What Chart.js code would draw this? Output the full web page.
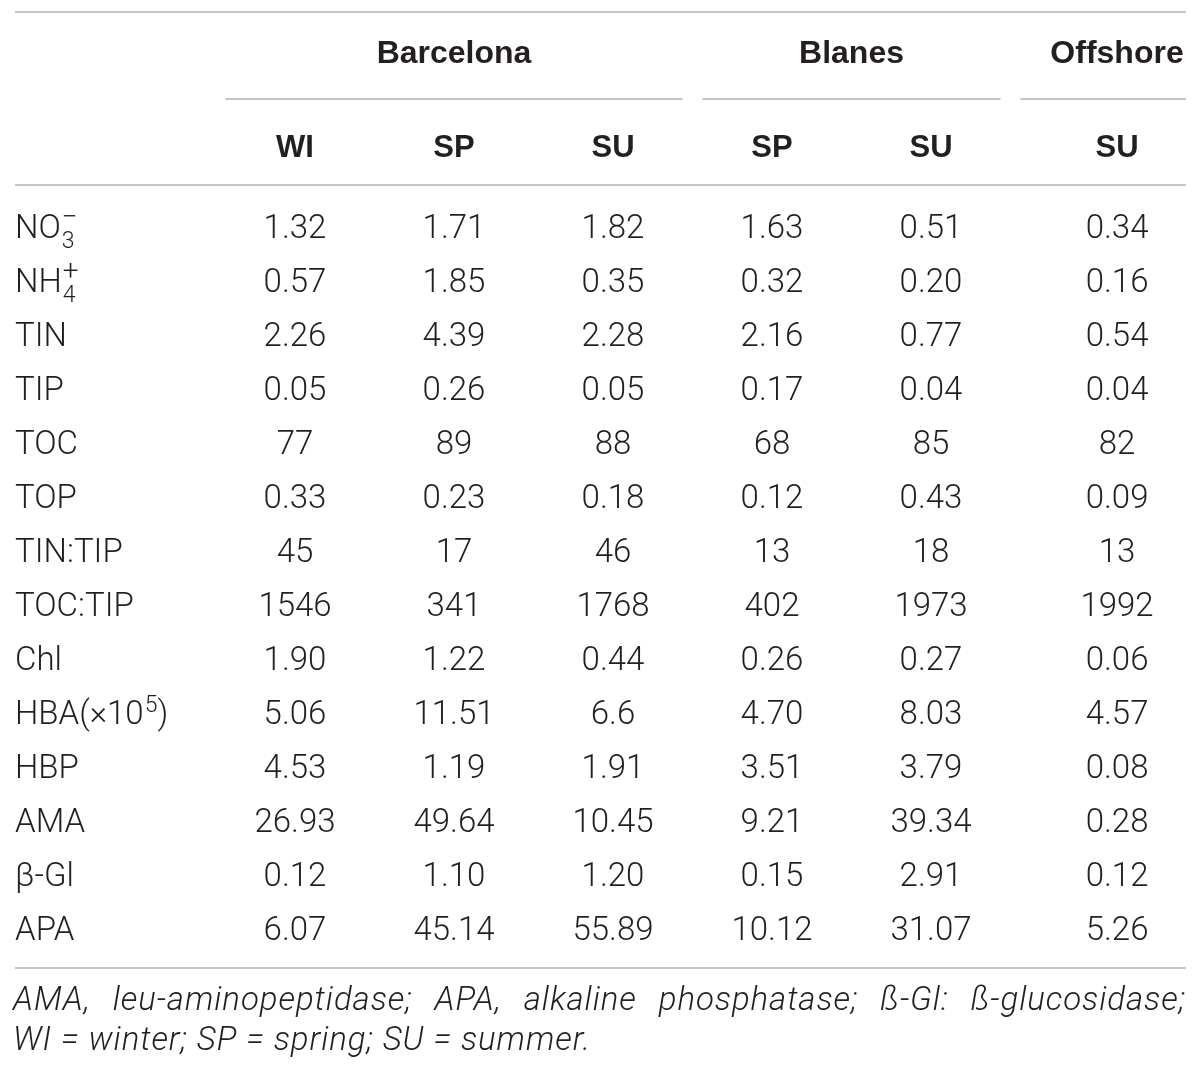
<!DOCTYPE html>
<html>
<head>
<meta charset="utf-8">
<script src="https://cdn.jsdelivr.net/npm/chart.js@4.4.1/dist/chart.umd.min.js"></script>
<style>
  html, body { margin: 0; background: #fff; }
  canvas { display: block; }
</style>
</head>
<body>
<canvas id="tableChart" width="1200" height="1072"></canvas>
<script>
// ---- data ----
const groups = ["Barcelona", "Blanes", "Offshore"];
const groupSizes = [3, 2, 1];
const seasons = ["WI", "SP", "SU", "SP", "SU", "SU"];
const rowLabels = ["NO_{3}^{\u2212}", "NH_{4}^{+}", "TIN", "TIP", "TOC", "TOP", "TIN:TIP", "TOC:TIP",
                   "Chl", "HBA(\u00d710^{5})", "HBP", "AMA", "\u03b2-Gl", "APA"];

const barcelonaWI = ["1.32", "0.57", "2.26", "0.05", "77", "0.33", "45", "1546", "1.90", "5.06", "4.53", "26.93", "0.12", "6.07"];
const barcelonaSP = ["1.71", "1.85", "4.39", "0.26", "89", "0.23", "17", "341", "1.22", "11.51", "1.19", "49.64", "1.10", "45.14"];
const barcelonaSU = ["1.82", "0.35", "2.28", "0.05", "88", "0.18", "46", "1768", "0.44", "6.6", "1.91", "10.45", "1.20", "55.89"];
const blanesSP    = ["1.63", "0.32", "2.16", "0.17", "68", "0.12", "13", "402", "0.26", "4.70", "3.51", "9.21", "0.15", "10.12"];
const blanesSU    = ["0.51", "0.20", "0.77", "0.04", "85", "0.43", "18", "1973", "0.27", "8.03", "3.79", "39.34", "2.91", "31.07"];
const offshoreSU  = ["0.34", "0.16", "0.54", "0.04", "82", "0.09", "13", "1992", "0.06", "4.57", "0.08", "0.28", "0.12", "5.26"];
const columns = [barcelonaWI, barcelonaSP, barcelonaSU, blanesSP, blanesSU, offshoreSU];

const footnoteLines = [
    "AMA, leu-aminopeptidase; APA, alkaline phosphatase; \u00df-Gl: \u00df-glucosidase;",
    "WI = winter; SP = spring; SU = summer."
];

// ---- layout / style ----
const W = 1200, H = 1072;
const tableLeft = 15, tableRight = 1186;
const bodyLeft = 215.5;          // left edge of first value column
const unitPx = 159;              // width of one column unit
const colWidths = [1, 1, 1, 1, 1, 1.34];
const bodyTop = 199, bodyBottom = 955;
const textColor = "#231f20";
const ruleColor = "#c4c4c4";
const bodyFont = "Roboto, 'Liberation Sans', sans-serif";
const headFont = "'Liberation Sans', Arial, sans-serif";
const bodySize = 33;
const footSize = 33;
const footLine2End = 590;        // right end of the short footnote line

// column centres in column units (cumulative widths)
let colCenters = [];
let acc = 0;
colWidths.forEach(w => { colCenters.push(acc + w / 2); acc += w; });

function drawRich(ctx, text, x, baseline, size) {
    let parts = text.split(/(_\{[^}]*\}|\^\{[^}]*\})/).filter(p => p.length);
    let cx = x, scriptStart = null, scriptW = 0;
    parts.forEach(p => {
        if (p.startsWith("_{") || p.startsWith("^{")) {
            let s = p.slice(2, -1);
            let small = Math.round(size * 0.7);
            ctx.font = "300 " + small + "px " + bodyFont;
            if (scriptStart === null) { scriptStart = cx + 1; scriptW = 0; }
            let dy = p[0] === "_" ? size * 0.3 : -size * 0.36;
            if (s === "\u2212" || s === "+") {
                // draw the sign a bit larger, like the reference
                ctx.font = "300 " + Math.round(size * 0.85) + "px " + bodyFont;
            }
            ctx.fillText(s, scriptStart, baseline + dy);
            scriptW = Math.max(scriptW, ctx.measureText(s).width);
            cx = scriptStart + scriptW;
        } else {
            scriptStart = null;
            ctx.font = "300 " + size + "px " + bodyFont;
            ctx.fillText(p, cx, baseline);
            cx += ctx.measureText(p).width;
        }
    });
}

function hRule(ctx, x1, x2, y) {
    ctx.beginPath();
    ctx.moveTo(x1, y);
    ctx.lineTo(x2, y);
    ctx.stroke();
}

function drawJustified(ctx, line, x1, x2, baseline) {
    let words = line.split(" ");
    let total = words.reduce((s, w) => s + ctx.measureText(w).width, 0);
    let gap = (x2 - x1 - total) / (words.length - 1);
    let cx = x1;
    words.forEach(w => {
        ctx.fillText(w, cx, baseline);
        cx += ctx.measureText(w).width + gap;
    });
}

const tablePlugin = {
    id: "tableText",
    afterDatasetsDraw(chart) {
        const ctx = chart.ctx;
        const xs = chart.scales.x;
        const ys = chart.scales.y;
        ctx.save();
        ctx.fillStyle = textColor;
        ctx.strokeStyle = ruleColor;
        ctx.lineWidth = 2;
        ctx.textBaseline = "alphabetic";

        // rules
        hRule(ctx, tableLeft, tableRight, 12);
        hRule(ctx, tableLeft, tableRight, 185);
        hRule(ctx, tableLeft, tableRight, 968);

        // group headers and their underlines
        ctx.font = "bold 32px " + headFont;
        ctx.textAlign = "center";
        let start = 0, left = 0;
        groups.forEach((g, gi) => {
            let width = colWidths.slice(start, start + groupSizes[gi]).reduce((a, b) => a + b, 0);
            let px1 = xs.getPixelForValue(left);
            let px2 = xs.getPixelForValue(left + width);
            ctx.fillText(g, (px1 + px2) / 2, 63);
            hRule(ctx, px1 + 10, Math.min(px2 - 10, tableRight), 99);
            start += groupSizes[gi];
            left += width;
        });

        // season headers
        ctx.font = "bold 31px " + headFont;
        seasons.forEach((s, i) => {
            ctx.fillText(s, xs.getPixelForValue(colCenters[i]), 157);
        });

        // row labels
        ctx.textAlign = "left";
        rowLabels.forEach((lab, i) => {
            drawRich(ctx, lab, tableLeft, ys.getPixelForValue(i) + 12, bodySize);
        });

        // cell values, placed at each data point
        ctx.textAlign = "center";
        ctx.font = "300 " + bodySize + "px " + bodyFont;
        chart.data.datasets.forEach((ds, di) => {
            chart.getDatasetMeta(di).data.forEach((pt, ri) => {
                ctx.fillText(columns[di][ri], pt.x, pt.y + 12);
            });
        });

        // footnote: small extra letter spacing so line 2 has the reference width
        ctx.textAlign = "left";
        ctx.font = "italic 300 " + footSize + "px " + bodyFont;
        let natural = ctx.measureText(footnoteLines[1]).width;
        let spacing = Math.max(0, (footLine2End - 13 - natural) / (footnoteLines[1].length - 1));
        ctx.letterSpacing = spacing.toFixed(2) + "px";
        drawJustified(ctx, footnoteLines[0], 13, tableRight, 1010);
        ctx.fillText(footnoteLines[1], 13, 1050);
        ctx.restore();
    }
};

new Chart(document.getElementById("tableChart"), {
    type: "scatter",
    data: {
        labels: rowLabels,
        datasets: columns.map((col, ci) => ({
            label: seasons[ci],
            data: col.map((v, ri) => ({ x: colCenters[ci], y: rowLabels[ri] })),
            pointRadius: 0,
            pointHoverRadius: 0
        }))
    },
    options: {
        responsive: false,
        animation: false,
        devicePixelRatio: 1,
        events: [],
        layout: { padding: { top: bodyTop, bottom: H - bodyBottom, left: 0, right: 0 } },
        plugins: { legend: { display: false }, tooltip: { enabled: false } },
        scales: {
            x: {
                type: "linear",
                display: false,
                min: -bodyLeft / unitPx,
                max: (W - bodyLeft) / unitPx
            },
            y: {
                type: "category",
                labels: rowLabels,
                offset: true,
                display: false
            }
        }
    },
    plugins: [tablePlugin]
});
</script>
</body>
</html>
